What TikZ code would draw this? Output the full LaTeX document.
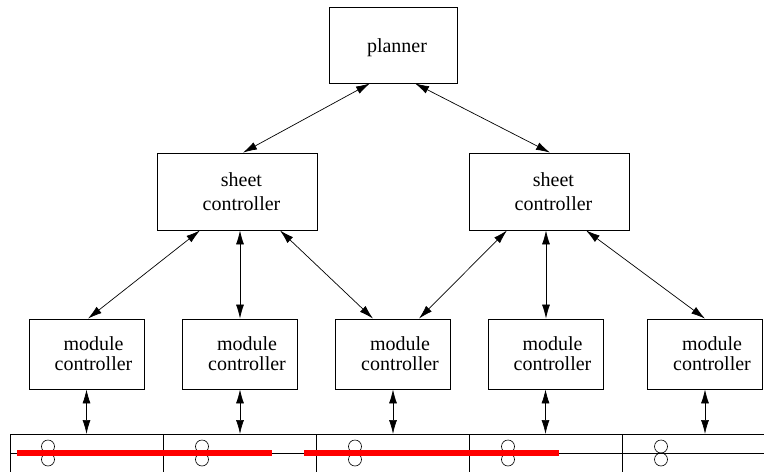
\documentclass[tikz,border=0pt]{standalone}
\usepackage{fontspec}
\setmainfont{Liberation Serif}
\newfontfamily\diagfont{Liberation Serif}
\usetikzlibrary{arrows.meta,calc}
\begin{document}
\begin{tikzpicture}[x=1pt,y=-1pt,
  box/.style={draw=black,line width=0.8pt,inner sep=0pt},
  modbox/.style={box,minimum width=115pt,minimum height=70pt},
  sheetbox/.style={box,minimum width=160pt,minimum height=77pt},
  modtext/.style={align=center,font=\diagfont\fontsize{20}{20}\selectfont,xshift=7pt},
  sheettext/.style={align=center,font=\diagfont\fontsize{20}{24}\selectfont,xshift=4.5pt},
  link/.style={line width=0.7pt,{Latex[length=14pt,width=8pt]}-{Latex[length=14pt,width=8pt]}},
  rail/.style={line width=0.7pt},
  belt/.style={red,line width=6pt},
  roller/.style={line width=0.6pt}
]
\useasboundingbox (0,0) rectangle (764,472);

% planner
\node[box,minimum width=128pt,minimum height=76pt,
  label={[font=\diagfont\fontsize{20}{20}\selectfont,xshift=4pt,yshift=-3pt]center:planner}] (planner) at (393,45) {};

% sheet controllers
\node[sheetbox,label={[sheettext]center:sheet\\controller}] (sheet1) at (237,191.5) {};
\node[sheetbox,label={[sheettext]center:sheet\\controller}] (sheet2) at (549,191.5) {};

% module controllers
\node[modbox,label={[modtext]center:module\\controller}] (mod1) at (86.5,354) {};
\node[modbox,label={[modtext]center:module\\controller}] (mod2) at (240,354) {};
\node[modbox,label={[modtext]center:module\\controller}] (mod3) at (393,354) {};
\node[modbox,label={[modtext]center:module\\controller}] (mod4) at (545.5,354) {};
\node[modbox,label={[modtext]center:module\\controller}] (mod5) at (705,354) {};

% planner links
\draw[link] ([xshift=-23pt]planner.south) -- ([xshift=6pt]sheet1.north);
\draw[link] ([xshift=22pt]planner.south) -- ([xshift=1pt]sheet2.north);

% sheet to module links
\draw[link] ([xshift=-37pt]sheet1.south) -- ([xshift=1.5pt]mod1.north);
\draw[link] ([xshift=3pt]sheet1.south) -- (mod2.north);
\draw[link] ([xshift=43pt]sheet1.south) -- ([xshift=-20pt]mod3.north);
\draw[link] ([xshift=-42pt]sheet2.south) -- ([xshift=26pt]mod3.north);
\draw[link] ([xshift=-3pt]sheet2.south) -- ([xshift=0.5pt]mod4.north);
\draw[link] ([xshift=37pt]sheet2.south) -- (mod5.north);

% paper path strip
\coordinate (stripTL) at (10,434);
\coordinate (stripTR) at (764,434);
\coordinate (midL) at (10,453);
\coordinate (midR) at (764,453);
\draw[rail] (stripTR) -- (stripTL) -- (10,472);
\draw[rail] (midL) -- (midR);
\foreach \x in {163,316,469,622} \draw[rail] (\x,434) -- (\x,472);

% module to strip links
\foreach \m in {mod1,mod2,mod3,mod4,mod5}
  \draw[link] (\m.south) -- (\m.south |- stripTL);

% rollers
\foreach \x in {48,202,355,508,661} {
  \draw[roller] (\x,446.5) circle (6.5);
  \draw[roller] (\x,459.5) circle (6.5);
}

% sheets on the path
\draw[belt] (17,453) -- (272,453);
\draw[belt] (304,453) -- (559,453);
\end{tikzpicture}
\end{document}
